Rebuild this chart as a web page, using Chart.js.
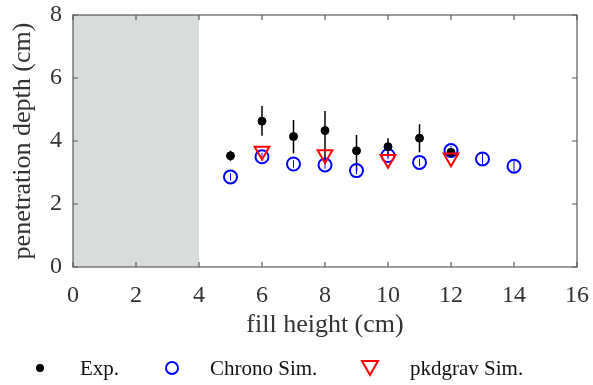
<!DOCTYPE html>
<html>
<head>
<meta charset="utf-8">
<script src="https://cdn.jsdelivr.net/npm/chart.js@4"></script>
<style>
html, body { margin: 0; padding: 0; background: #fff; }
#wrap { position: relative; width: 593px; height: 385px; }
#legend { position: absolute; left: 0; top: 354px; width: 593px; height: 28px;
  font-family: "Liberation Serif", serif; font-size: 21px; color: #111; }
#legend .txt { position: absolute; top: 0; line-height: 28px; white-space: nowrap; }
#legend svg { position: absolute; top: 0; }
</style>
</head>
<body>
<div id="wrap">
  <canvas id="depthChart" width="593" height="385"></canvas>
  <div id="legend">
    <svg style="left:30px" width="20" height="28"><circle cx="10" cy="14" r="4" fill="#000"/></svg>
    <span class="txt" style="left:80px">Exp.</span>
    <svg style="left:162px" width="20" height="28"><circle cx="10" cy="14" r="6" fill="none" stroke="#0000ff" stroke-width="2"/></svg>
    <span class="txt" style="left:210px">Chrono Sim.</span>
    <svg style="left:358px" width="24" height="28"><polygon points="4,7 20,7 12,21" fill="none" stroke="#ff0000" stroke-width="2"/></svg>
    <span class="txt" style="left:410px">pkdgrav Sim.</span>
  </div>
</div>
<script>
// values
const expHeights = [5, 6, 7, 8, 9, 10, 11, 12];
const expDepth = [3.53, 4.63, 4.14, 4.33, 3.69, 3.82, 4.09, 3.64];
const expErrUp = [0.16, 0.48, 0.53, 0.62, 0.50, 0.27, 0.44, 0.14];
const expErrDown = [0.16, 0.46, 0.53, 0.99, 0.64, 0.32, 0.45, 0.14];

const chronoHeights = [5, 6, 7, 8, 9, 10, 11, 12, 13, 14];
const chronoDepth = [2.86, 3.50, 3.27, 3.24, 3.06, 3.54, 3.32, 3.70, 3.43, 3.20];
const chronoErr = [0.12, 0.12, 0.12, 0.12, 0.12, 0.12, 0.12, 0.15, 0.18, 0.18];

const pkdHeights = [6, 8, 10, 12];
const pkdDepth = [3.68, 3.57, 3.42, 3.47];

const shadedRange = [0, 4];
const xTicks = [0, 2, 4, 6, 8, 10, 12, 14, 16];
const yTicks = [0, 2, 4, 6, 8];

const serif = "'Liberation Serif', serif";
Chart.defaults.font.family = serif;

function toPoints(xs, ys) {
    return xs.map((x, i) => ({x: x, y: ys[i]}));
}

// gray band, error bars, and the boxed axes with inward ticks
const framePlugin = {
    id: 'frame',
    beforeDatasetsDraw(chart) {
        const {ctx, chartArea: a, scales: {x, y}} = chart;
        ctx.save();
        ctx.fillStyle = '#d8dddb';
        const x0 = x.getPixelForValue(shadedRange[0]);
        const x1 = x.getPixelForValue(shadedRange[1]);
        ctx.fillRect(x0, a.top, x1 - x0, a.bottom - a.top);

        ctx.lineWidth = 1.5;
        ctx.strokeStyle = '#000';
        expHeights.forEach((h, i) => {
            const px = x.getPixelForValue(h);
            ctx.beginPath();
            ctx.moveTo(px, y.getPixelForValue(expDepth[i] - expErrDown[i]));
            ctx.lineTo(px, y.getPixelForValue(expDepth[i] + expErrUp[i]));
            ctx.stroke();
        });
        ctx.lineWidth = 1;
        ctx.strokeStyle = '#0000ff';
        chronoHeights.forEach((h, i) => {
            const px = x.getPixelForValue(h);
            ctx.beginPath();
            ctx.moveTo(px, y.getPixelForValue(chronoDepth[i] - chronoErr[i]));
            ctx.lineTo(px, y.getPixelForValue(chronoDepth[i] + chronoErr[i]));
            ctx.stroke();
        });
        ctx.restore();
    },
    afterDatasetsDraw(chart) {
        const {ctx, chartArea: a, scales: {x, y}} = chart;
        ctx.save();
        ctx.strokeStyle = '#5a5a5a';
        ctx.lineWidth = 1.2;
        ctx.strokeRect(a.left, a.top, a.right - a.left, a.bottom - a.top);
        const tl = 5;
        ctx.beginPath();
        xTicks.forEach(v => {
            const px = x.getPixelForValue(v);
            ctx.moveTo(px, a.bottom); ctx.lineTo(px, a.bottom - tl);
            ctx.moveTo(px, a.top); ctx.lineTo(px, a.top + tl);
        });
        yTicks.forEach(v => {
            const py = y.getPixelForValue(v);
            ctx.moveTo(a.left, py); ctx.lineTo(a.left + tl, py);
            ctx.moveTo(a.right, py); ctx.lineTo(a.right - tl, py);
        });
        ctx.stroke();
        ctx.restore();
    }
};

const chartData = {
    datasets: [{
        label: 'Exp.',
        data: toPoints(expHeights, expDepth),
        pointStyle: 'circle',
        pointRadius: 4,
        backgroundColor: '#000',
        borderColor: '#000',
        borderWidth: 1,
        order: 1
    }, {
        label: 'Chrono Sim.',
        data: toPoints(chronoHeights, chronoDepth),
        pointStyle: 'circle',
        pointRadius: 6.5,
        backgroundColor: 'rgba(0,0,0,0)',
        borderColor: '#0000ff',
        borderWidth: 2,
        order: 2
    }, {
        label: 'pkdgrav Sim.',
        data: toPoints(pkdHeights, pkdDepth),
        pointStyle: 'triangle',
        rotation: 180,
        pointRadius: 8.5,
        backgroundColor: 'rgba(0,0,0,0)',
        borderColor: '#ff0000',
        borderWidth: 2,
        order: 0
    }]
};

const chartOptions = {
    animation: false,
    responsive: false,
    layout: { padding: { left: 0, right: 16, top: 15, bottom: 40 } },
    plugins: { legend: { display: false }, tooltip: { enabled: false } },
    scales: {
        x: {
            type: 'linear', min: 0, max: 16,
            afterBuildTicks: s => { s.ticks = xTicks.map(v => ({value: v})); },
            afterFit: s => { s.height = 78; s.paddingLeft = 0; s.paddingRight = 0; },
            grid: { display: false, drawTicks: false },
            border: { display: false },
            ticks: { color: '#333', padding: 14, font: { family: serif, size: 24 } },
            title: { display: true, text: 'fill height (cm)', color: '#333',
                     padding: { top: 0, bottom: 4 }, font: { family: serif, size: 26 } }
        },
        y: {
            type: 'linear', min: 0, max: 8,
            afterBuildTicks: s => { s.ticks = yTicks.map(v => ({value: v})); },
            afterFit: s => { s.width = 73; s.paddingTop = 0; s.paddingBottom = 0; },
            grid: { display: false, drawTicks: false },
            border: { display: false },
            ticks: { color: '#333', padding: 11, font: { family: serif, size: 24 } },
            title: { display: true, text: 'penetration depth (cm)', color: '#333',
                     padding: { top: 8, bottom: 0 }, font: { family: serif, size: 26 } }
        }
    }
};

new Chart(document.getElementById('depthChart').getContext('2d'), {
    type: 'scatter',
    data: chartData,
    options: chartOptions,
    plugins: [framePlugin]
});
</script>
</body>
</html>
